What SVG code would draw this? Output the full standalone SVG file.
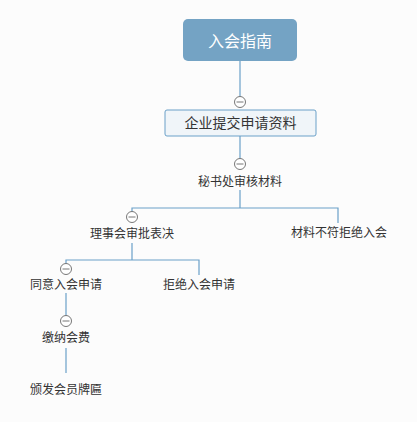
<svg xmlns="http://www.w3.org/2000/svg" width="417" height="422" viewBox="0 0 417 422">
<defs>
<style>
.l{fill:none;stroke:#6aa0c8;stroke-width:1.2}
.t{font-family:"Noto Sans CJK SC","Liberation Sans",sans-serif;font-size:12px;fill:#333;text-anchor:middle}
</style>
<g id="tog">
<circle cx="0" cy="0" r="5.5" fill="#fff" stroke="#777" stroke-width="1"/>
<line x1="-3.5" y1="0" x2="3.5" y2="0" stroke="#777" stroke-width="1"/>
</g>
</defs>
<rect width="417" height="422" fill="#fcfcfc"/>
<g id="connectors">
<path class="l" d="M240 61V97"/>
<path class="l" d="M240 136V159"/>
<path class="l" d="M240 190V208H132V212M240 208H338V223"/>
<path class="l" d="M132 243V260H66V264M132 260H199V275"/>
<path class="l" d="M66 293V316"/>
<path class="l" d="M66 348V373"/>
</g>
<g id="root">
<rect x="183" y="19" width="114" height="42" rx="5" fill="#74a3c4"/>
<text x="240" y="46.5" style="font-family:'Noto Sans CJK SC','Liberation Sans',sans-serif;font-size:16px;fill:#fff;text-anchor:middle">入会指南</text>
</g>
<g id="n1">
<rect x="165" y="110" width="151" height="26" rx="2" fill="#f0f5f9" stroke="#6aa0c8" stroke-width="1"/>
<text class="t" x="240.5" y="128" style="font-size:14px">企业提交申请资料</text>
<use href="#tog" x="240" y="102"/>
</g>
<g id="n2">
<text class="t" x="240" y="185.5">秘书处审核材料</text>
<use href="#tog" x="240" y="164"/>
</g>
<g id="n3">
<text class="t" x="132" y="237.5">理事会审批表决</text>
<use href="#tog" x="132" y="217"/>
</g>
<g id="n4">
<text class="t" x="339" y="236.5">材料不符拒绝入会</text>
</g>
<g id="n5">
<text class="t" x="66" y="288.5">同意入会申请</text>
<use href="#tog" x="66" y="269"/>
</g>
<g id="n6">
<text class="t" x="199" y="288.5">拒绝入会申请</text>
</g>
<g id="n7">
<text class="t" x="66" y="341.5">缴纳会费</text>
<use href="#tog" x="66" y="321"/>
</g>
<g id="n8">
<text class="t" x="66" y="393.5">颁发会员牌匾</text>
</g>
</svg>
